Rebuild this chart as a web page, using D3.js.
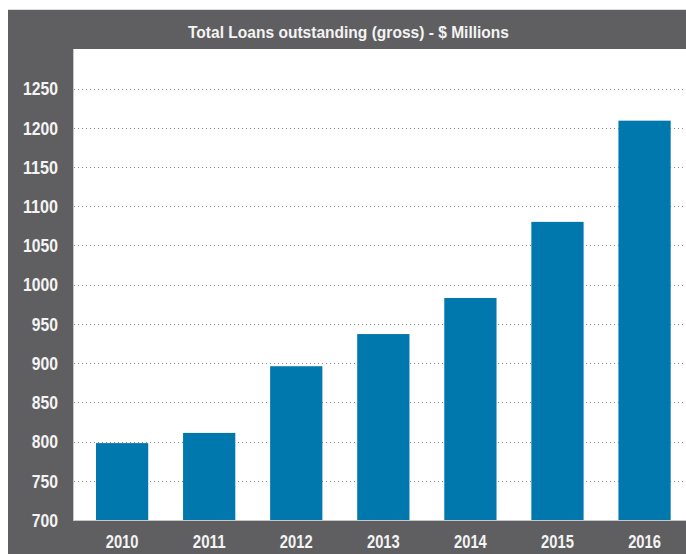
<!DOCTYPE html>
<html>
<head>
<meta charset="utf-8">
<script src="https://cdn.jsdelivr.net/npm/d3@7"></script>
<style>
  body { margin: 0; background: #fff; }
  text { font-family: "Liberation Sans", Arial, sans-serif; font-weight: bold; }
</style>
</head>
<body>
<div id="chart"></div>
<script>
// data
var years = ["2010", "2011", "2012", "2013", "2014", "2015", "2016"];
var loans = [798, 811, 896, 937, 983, 1080, 1209];
var yTicks = [700, 750, 800, 850, 900, 950, 1000, 1050, 1100, 1150, 1200, 1250];
var title = "Total Loans outstanding (gross) - $ Millions";

var width = 686,
    height = 554;

var frame = { left: 8, top: 10 },
    plot = { left: 73, top: 49, right: 686, bottom: 520 };

// the original font is a condensed bold, so squeeze glyphs to the measured widths
var digitWidth = 8.75;

var svg = d3.select("#chart").append("svg")
    .attr("width", width)
    .attr("height", height);

// grey frame behind everything
svg.append("line")
    .attr("x1", frame.left).attr("x2", width)
    .attr("y1", frame.top - 0.5).attr("y2", frame.top - 0.5)
    .style("stroke", "#dcdcdc");

svg.append("rect")
    .attr("x", frame.left)
    .attr("y", frame.top)
    .attr("width", width - frame.left)
    .attr("height", height - frame.top)
    .style("fill", "#5f5f61");

svg.append("rect")
    .attr("x", plot.left)
    .attr("y", plot.top)
    .attr("width", plot.right - plot.left)
    .attr("height", plot.bottom - plot.top)
    .style("fill", "#fff");

var x = d3.scaleBand()
    .domain(years)
    .range([plot.left, plot.right])
    .paddingInner(0.4)
    .paddingOuter(0.22)
    .align(0.6);

var y = d3.scaleLinear()
    .domain([700, 1250])
    .range([plot.bottom, 88.5]);

// dotted gridlines
svg.append("g")
    .selectAll("line")
    .data(yTicks.filter(function(d) { return d > 700; }))
  .enter().append("line")
    .attr("x1", plot.left + 1)
    .attr("x2", plot.right)
    .attr("y1", function(d) { return Math.round(y(d)) + 0.5; })
    .attr("y2", function(d) { return Math.round(y(d)) + 0.5; })
    .style("stroke", "#8c8c8c")
    .style("stroke-dasharray", "1,3");

svg.append("g")
    .selectAll("rect")
    .data(loans)
  .enter().append("rect")
    .attr("x", function(d, i) { return x(years[i]); })
    .attr("y", function(d) { return y(d); })
    .attr("width", x.bandwidth())
    .attr("height", function(d) { return y(700) - y(d); })
    .style("fill", "#0077ad");

// thin light edges of the plot box
svg.append("line")
    .attr("x1", plot.left + 0.5).attr("x2", plot.left + 0.5)
    .attr("y1", plot.top).attr("y2", plot.bottom)
    .style("stroke", "#c8c8c8");
svg.append("line")
    .attr("x1", plot.left).attr("x2", plot.right)
    .attr("y1", plot.bottom + 0.5).attr("y2", plot.bottom + 0.5)
    .style("stroke", "#c8c8c8");

// axes, drawn with d3 then stripped to labels
var yAxis = svg.append("g")
    .attr("transform", "translate(" + (plot.left - 15) + ",0)")
    .call(d3.axisLeft(y).tickValues(yTicks).tickFormat(d3.format("d")).tickSize(0).tickPadding(0));
yAxis.attr("font-family", null);
yAxis.select(".domain").remove();
yAxis.selectAll("text")
    .attr("dy", "0.36em")
    .attr("textLength", function(d) { return String(d).length * digitWidth; })
    .attr("lengthAdjust", "spacingAndGlyphs")
    .style("font-size", "17.5px")
    .style("fill", "#f4f4f4");

var xAxis = svg.append("g")
    .attr("transform", "translate(0," + plot.bottom + ")")
    .call(d3.axisBottom(x).tickSize(0).tickPadding(0));
xAxis.attr("font-family", null);
xAxis.select(".domain").remove();
xAxis.selectAll("text")
    .attr("y", 28)
    .attr("dy", 0)
    .attr("textLength", function(d) { return d.length * 8.2; })
    .attr("lengthAdjust", "spacingAndGlyphs")
    .style("font-size", "17.5px")
    .style("fill", "#f4f4f4");

svg.append("text")
    .attr("x", 348.5)
    .attr("y", 37.5)
    .attr("text-anchor", "middle")
    .attr("textLength", 321)
    .attr("lengthAdjust", "spacingAndGlyphs")
    .style("font-size", "17px")
    .style("fill", "#f4f4f4")
    .text(title);
</script>
</body>
</html>
